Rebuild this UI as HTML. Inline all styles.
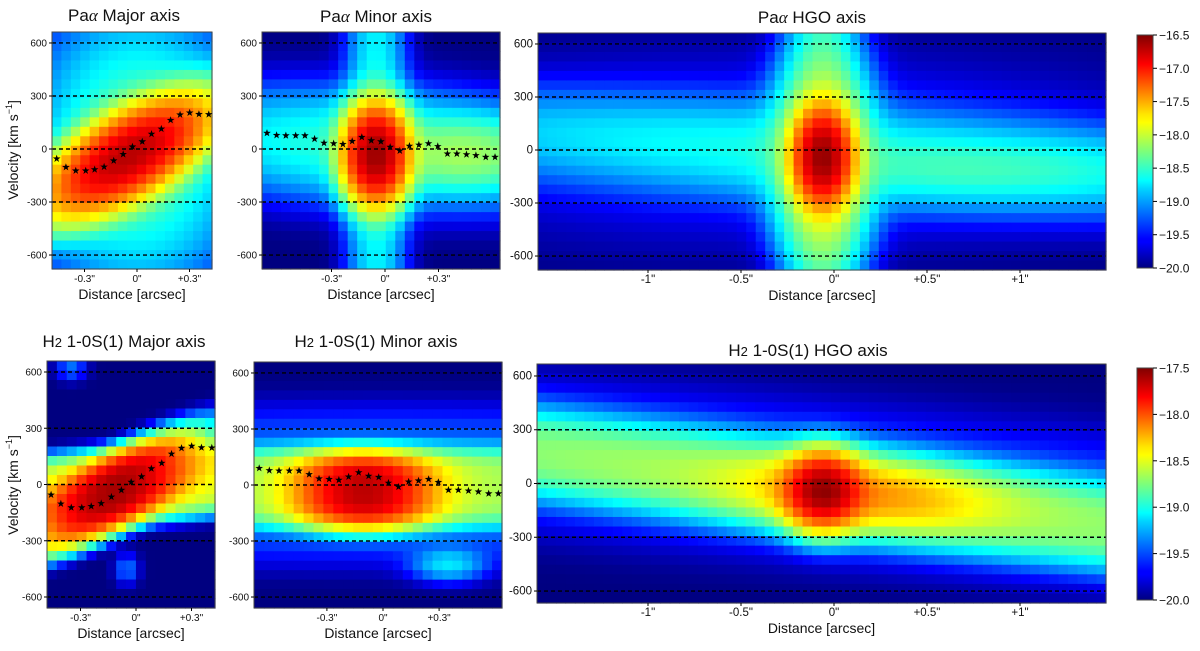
<!DOCTYPE html>
<html><head><meta charset="utf-8"><style>
html,body{margin:0;padding:0;background:#fff;}
svg{display:block;font-family:"Liberation Sans",sans-serif;}
</style></head><body>
<svg id="fig" width="1200" height="651" viewBox="0 0 1200 651" xmlns="http://www.w3.org/2000/svg">
<defs>
<linearGradient id="jet1" x1="0" y1="1" x2="0" y2="0">
<stop offset="0" stop-color="#000080"/><stop offset="0.11" stop-color="#0000ff"/><stop offset="0.125" stop-color="#0000ff"/><stop offset="0.34" stop-color="#00d4ff"/><stop offset="0.375" stop-color="#0ff"/><stop offset="0.5" stop-color="#7dff7a"/><stop offset="0.625" stop-color="#ff0"/><stop offset="0.66" stop-color="#ffe600"/><stop offset="0.875" stop-color="#ff0000"/><stop offset="1" stop-color="#800000"/>
</linearGradient>
</defs>
</svg>
<script>
// ---- data ----
const velTicks = [600, 300, 0, -300, -600];
const dashVels = [600, 300, 0, -300, -600];
const shortTickVals = [-0.3, 0, 0.3];
const shortTickLabels = ['-0.3"', '0"', '+0.3"'];
const longTickVals = [-1, -0.5, 0, 0.5, 1];
const longTickLabels = ['-1"', '-0.5"', '0"', '+0.5"', '+1"'];
const cbarTopTicks = [-16.5, -17.0, -17.5, -18.0, -18.5, -19.0, -19.5, -20.0];
const cbarBotTicks = [-17.5, -18.0, -18.5, -19.0, -19.5, -20.0];
const majorStarDist = [-0.459,-0.406,-0.350,-0.293,-0.242,-0.188,-0.133,-0.079,-0.026,0.030,0.083,0.139,0.192,0.246,0.301,0.354,0.410];
const majorStarVel = [-55,-103,-123,-123,-116,-101,-66,-30,13,42,85,114,163,194,205,197,196];
const minorStarDist = [-0.662,-0.608,-0.556,-0.501,-0.449,-0.395,-0.342,-0.288,-0.236,-0.184,-0.130,-0.077,-0.023,0.029,0.083,0.137,0.190,0.244,0.296,0.350,0.403,0.457,0.510,0.565,0.617];
const minorStarVel = [90,78,76,76,76,57,34,31,27,44,67,48,42,11,-10,17,23,31,15,-27,-27,-31,-36,-46,-46];
// emission components: [d0 arcsec, v0 km/s, sigma_d, sigma_v, amplitude, tilt km/s/arcsec, shape power]
const paMajorComps = [[-0.05,-40,0.22,120,2000,450,2],[0,0,0.32,420,40,0,2]];
const paMinorComps = [[-0.05,-30,0.085,130,2500,0,2],[-0.05,0,0.09,1000,22,0,2],[0,10,0.7,170,30,-60,2],[0.45,-30,0.25,110,50,0,2]];
const paHgoComps = [[-0.06,-40,0.075,130,2500,0,2],[-0.06,-60,0.13,300,150,0,2],[-0.06,0,0.1,900,30,0,2],[0,-20,1.6,150,20,-70,2],[0.8,-120,0.6,110,15,0,2],[-0.3,0,1.2,300,3,0,2]];
const h2MajorComps = [[-0.12,-40,0.22,130,220,450,3],[0,0,0.8,150,35,100,4],[-0.05,-450,0.04,50,3,0,2],[-0.35,620,0.05,40,3,0,2]];
const h2MinorComps = [[-0.1,-30,0.2,130,200,0,3],[0,-10,1.1,160,22,0,4],[0,0,2,330,3,0,4],[0.35,-430,0.12,55,6,0,2]];
const h2HgoComps = [[-0.06,-40,0.11,110,230,0,2],[0.15,-60,0.4,110,45,-80,2],[0,-40,2.5,160,20,-130,2.5],[0,0,3,330,2,-100,3]];

const NS='http://www.w3.org/2000/svg';
const svg=document.getElementById('fig');
function mk(tag,attrs,parent){const e=document.createElementNS(NS,tag);for(const k in attrs)e.setAttribute(k,attrs[k]);(parent||svg).appendChild(e);return e;}
function jet(t){t=Math.max(0,Math.min(1,t));const c=x=>Math.round(255*Math.max(0,Math.min(1,x)));
 return `rgb(${c(1.5-Math.abs(4*t-3))},${c(1.5-Math.abs(4*t-2))},${c(1.5-Math.abs(4*t-1))})`;}
function intensity(comps,d,v){let I=1;for(const c of comps){const [d0,v0,sd,sv,a,tilt,p]=c;const dv=v-(v0+tilt*(d-d0));
 I+=a*Math.exp(-0.5*Math.pow((d-d0)/sd,2)-0.5*Math.pow(Math.abs(dv/sv),p));}return I;}

function panel(cfg){
 const g=mk('g',{});
 
 
 const X=d=>cfg.xZero+d*cfg.pxPerArc;
 const Y=v=>cfg.yZero-v*cfg.pxPerKms;
 const w=(cfg.x1-cfg.x0)/cfg.nCols,h=(cfg.y1-cfg.y0)/cfg.nRows;
 const cells=mk('g',{},g);
 
 
 for(let i=0;i<cfg.nCols;i++)for(let j=0;j<cfg.nRows;j++){
  const px=cfg.x0+i*w,py=cfg.y0+j*h;
  const d=(px+w/2-cfg.xZero)/cfg.pxPerArc,v=(cfg.yZero-(py+h/2))/cfg.pxPerKms;
  const val=-20+Math.log10(intensity(cfg.comps,d,v));
  const r=mk('rect',{x:px.toFixed(2),y:py.toFixed(2),width:(w+0.6).toFixed(2),height:(h+0.6).toFixed(2),fill:jet((val-cfg.vmin)/(cfg.vmax-cfg.vmin))},cells);
  
  
 }
 for(const vv of dashVels){const l=mk('line',{x1:cfg.x0,x2:cfg.x1,y1:Y(vv),y2:Y(vv),stroke:'#000','stroke-width':1.4,'stroke-dasharray':'4,3'},g);
  
  }
 mk('rect',{x:cfg.x0,y:cfg.y0,width:cfg.x1-cfg.x0,height:cfg.y1-cfg.y0,fill:'none',stroke:'#444','stroke-width':1},g);
 for(const vv of velTicks){const y=Y(vv);mk('line',{x1:cfg.x0-3,x2:cfg.x0,y1:y,y2:y,stroke:'#000'},g);
  const t=mk('text',{x:cfg.x0-5,y:y+3.5,'text-anchor':'end','font-size':cfg.tickFs,fill:'#111'},g);t.textContent=String(vv);
  
  }
 cfg.xTicks.forEach((d,k)=>{const x=X(d);mk('line',{x1:x,x2:x,y1:cfg.y1,y2:cfg.y1+3,stroke:'#000'},g);
  const t=mk('text',{x:x,y:cfg.y1+13,'text-anchor':'middle','font-size':cfg.tickFs,fill:'#111'},g);t.textContent=cfg.xLabels[k];
  
  });
 const xl=mk('text',{x:(cfg.x0+cfg.x1)/2,y:cfg.y1+30,'text-anchor':'middle','font-size':14,fill:'#111'},g);xl.textContent='Distance [arcsec]';
 
 
 const tt=mk('text',{x:cfg.titleX,y:cfg.titleY,'text-anchor':'middle','font-size':17,fill:'#111'},g);
 
 
 tt.innerHTML=cfg.title;
 if(cfg.starD){cfg.starD.forEach((d,k)=>{const cx=X(d),cy=Y(cfg.starV[k]);let pts=[];
  for(let m=0;m<10;m++){const a=-Math.PI/2+m*Math.PI/5,r=m%2?1.6:4;pts.push((cx+r*Math.cos(a)).toFixed(1)+','+(cy+r*Math.sin(a)).toFixed(1));}
  const s=mk('polygon',{points:pts.join(' '),fill:'#000'},g);
  
  });}
 if(cfg.yTitle){const yt=mk('text',{x:0,y:0,'text-anchor':'middle','font-size':14,fill:'#111',transform:`translate(18,${cfg.yTitle}) rotate(-90)`},g);
  yt.innerHTML='Velocity [km s<tspan font-size="9" dy="-6">−1</tspan><tspan dy="6">]</tspan>';
  
  }
}
function cbar(x0,y0,y1,ticks,vmin,vmax,name){
 const g=mk('g',{});
 
 
 mk('rect',{x:x0,y:y0,width:16,height:y1-y0,fill:'url(#jet1)',stroke:'#444','stroke-width':1},g);
 for(const v of ticks){const y=y1-(v-vmin)/(vmax-vmin)*(y1-y0);mk('line',{x1:x0+16,x2:x0+20,y1:y,y2:y,stroke:'#000'},g);
  const t=mk('text',{x:x0+22,y:y+4.5,'font-size':12,fill:'#111'},g);t.textContent='−'+Math.abs(v).toFixed(1);
  
  }
}
const PA='Pa<tspan font-family="Liberation Serif" font-style="italic">α</tspan>';
const H2='H<tspan font-size="13">2</tspan> 1-0S(1)';
panel({name:'pa-major-panel',x0:52,x1:212,y0:32,y1:269,xZero:137,pxPerArc:175,yZero:149,pxPerKms:0.1767,nCols:17,nRows:25,comps:paMajorComps,vmin:-20,vmax:-16.5,tickFs:10,xTicks:shortTickVals,xLabels:shortTickLabels,title:PA+' Major axis',titleX:124,titleY:21,starD:majorStarDist,starV:majorStarVel,yTitle:150});
panel({name:'pa-minor-panel',x0:262,x1:500,y0:32,y1:269,xZero:385,pxPerArc:178.3,yZero:149,pxPerKms:0.1767,nCols:25,nRows:25,comps:paMinorComps,vmin:-20,vmax:-16.5,tickFs:10,xTicks:shortTickVals,xLabels:shortTickLabels,title:PA+' Minor axis',titleX:376,titleY:22,starD:minorStarDist,starV:minorStarVel});
panel({name:'pa-hgo-panel',x0:538,x1:1106,y0:33,y1:270,xZero:834,pxPerArc:186,yZero:150,pxPerKms:0.1767,nCols:60,nRows:25,comps:paHgoComps,vmin:-20,vmax:-16.5,tickFs:11.5,xTicks:longTickVals,xLabels:longTickLabels,title:PA+' HGO axis',titleX:812,titleY:23});
panel({name:'h2-major-panel',x0:47,x1:215,y0:361,y1:608,xZero:136,pxPerArc:185,yZero:484.5,pxPerKms:0.1875,nCols:17,nRows:26,comps:h2MajorComps,vmin:-20,vmax:-17.5,tickFs:10,xTicks:shortTickVals,xLabels:shortTickLabels,title:H2+' Major axis',titleX:124,titleY:347,starD:majorStarDist,starV:majorStarVel,yTitle:485});
panel({name:'h2-minor-panel',x0:254,x1:502,y0:362,y1:608,xZero:383,pxPerArc:187,yZero:485,pxPerKms:0.1867,nCols:25,nRows:26,comps:h2MinorComps,vmin:-20,vmax:-17.5,tickFs:10,xTicks:shortTickVals,xLabels:shortTickLabels,title:H2+' Minor axis',titleX:376,titleY:347,starD:minorStarDist,starV:minorStarVel});
panel({name:'h2-hgo-panel',x0:537,x1:1106,y0:364,y1:603,xZero:834,pxPerArc:186,yZero:483.5,pxPerKms:0.1792,nCols:60,nRows:25,comps:h2HgoComps,vmin:-20,vmax:-17.5,tickFs:11.5,xTicks:longTickVals,xLabels:longTickLabels,title:H2+' HGO axis',titleX:808,titleY:356});
cbar(1137,35,268,cbarTopTicks,-20,-16.5,'pa-colorbar');
cbar(1137,368,600,cbarBotTicks,-20,-17.5,'h2-colorbar');
</script>
</body></html>
